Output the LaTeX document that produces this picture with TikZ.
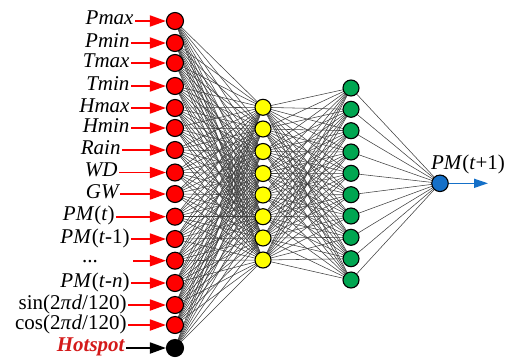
\documentclass[tikz,border=0pt]{standalone}
\usepackage{fontspec}
\setmainfont{Liberation Serif}
\usetikzlibrary{arrows.meta,backgrounds}
\definecolor{inred}{HTML}{FF0000}
\definecolor{hyel}{HTML}{FFFF00}
\definecolor{hgreen}{HTML}{00A651}
\definecolor{oblue}{HTML}{1570C8}
\definecolor{hotred}{HTML}{D41A1A}
\begin{document}
\begin{tikzpicture}[x=1pt,y=-1pt,
  neuron/.style={circle,draw=black,line width=1.1pt,inner sep=0pt},
  inneuron/.style={neuron,fill=inred,minimum size=17pt},
  yneuron/.style={neuron,fill=hyel,minimum size=16pt},
  gneuron/.style={neuron,fill=hgreen,minimum size=16pt},
  oneuron/.style={neuron,fill=oblue,minimum size=16.5pt},
  lbl/.style={font=\fontsize{21}{23}\selectfont,inner sep=0pt,outer sep=1.5pt,anchor=base east},
  inarr/.style={draw=inred,line width=1.8pt,-{Triangle[length=16pt,width=11pt]}},
  blkarr/.style={draw=black,line width=1.8pt,-{Triangle[length=16pt,width=11pt]}},
  outarr/.style={draw=oblue,line width=1.6pt,-{Triangle[length=14pt,width=9pt]}},
  wire/.style={draw=black!75,line width=0.55pt}]
\useasboundingbox (0,0) rectangle (505,357);
% input layer
\foreach \y [count=\k] in {21,43,63,86,108,128,150,172.5,194,216.7,239,260.7,283,305,325}
  \node[inneuron] (i\k) at (175,\y) {};
\node[neuron,fill=black,minimum size=17pt] (i16) at (175,348) {};
% hidden layer 1
\foreach \y [count=\k] in {107.3,129,151.5,173.5,195,216.7,238,260}
  \node[yneuron] (h\k) at (263,\y) {};
% hidden layer 2
\foreach \y [count=\k] in {88,109.3,130.7,152,173.3,194.7,216,237.3,258.7,280}
  \node[gneuron] (g\k) at (351,\y) {};
% output
\node[oneuron] (o) at (440,183.3) {};
% wires
\begin{pgfonlayer}{background}
\foreach \a in {1,...,16}
  \foreach \b in {1,...,8}
    \draw[wire] (i\a.center) -- (h\b.center);
\foreach \a in {1,...,8}
  \foreach \b in {1,...,10}
    \draw[wire] (h\a.center) -- (g\b.center);
\foreach \a in {1,...,10}
  \draw[wire] (g\a.center) -- (o.center);
\end{pgfonlayer}
% labels (baseline about 4pt below the arrow)
\node[lbl] (l1) at (135,24.5) {\itshape Pmax};
\node[lbl] (l2) at (131,47) {\itshape Pmin};
\node[lbl] (l3) at (131,67) {\itshape Tmax};
\node[lbl] (l4) at (131,90) {\itshape Tmin};
\node[lbl] (l5) at (131,112) {\itshape Hmax};
\node[lbl] (l6) at (131,132) {\itshape Hmin};
\node[lbl] (l7) at (122,154.5) {\itshape Rain};
\node[lbl] (l8) at (119,176.5) {\itshape WD};
\node[lbl] (l9) at (120,198) {\itshape GW};
\node[lbl] (l10) at (116,220.7) {\textit{PM}(\textit{t})};
\node[lbl] (l11) at (131,243) {\textit{PM}(\textit{t}-1)};
\node[lbl,anchor=base] (l12) at (90,262) {...};
\coordinate (c12) at (133,260.7);
\node[lbl] (l13) at (131,287) {\textit{PM}(\textit{t}-\textit{n})};
\node[lbl] (l14) at (128,309) {sin(2\textit{π}\textit{d}/120)};
\node[lbl] (l15) at (128,329) {cos(2\textit{π}\textit{d}/120)};
\node[lbl,text=hotred] (l16) at (126,351.5) {\bfseries\itshape Hotspot};
% input arrows
\foreach \k in {1,...,11,13,14,15}
  \draw[inarr] (l\k.east |- i\k) -- (i\k.west);
\draw[inarr] (c12) -- (i12.west);
\draw[blkarr] (l16.east |- i16) -- (i16.west);
% output
\coordinate (oend) at (488,183.3);
\draw[outarr] (o.east) -- (oend);
\node[font=\fontsize{21}{23}\selectfont,inner sep=0pt] (ol) at (468,164) {\textit{PM}(\textit{t}+1)};
\end{tikzpicture}
\end{document}
